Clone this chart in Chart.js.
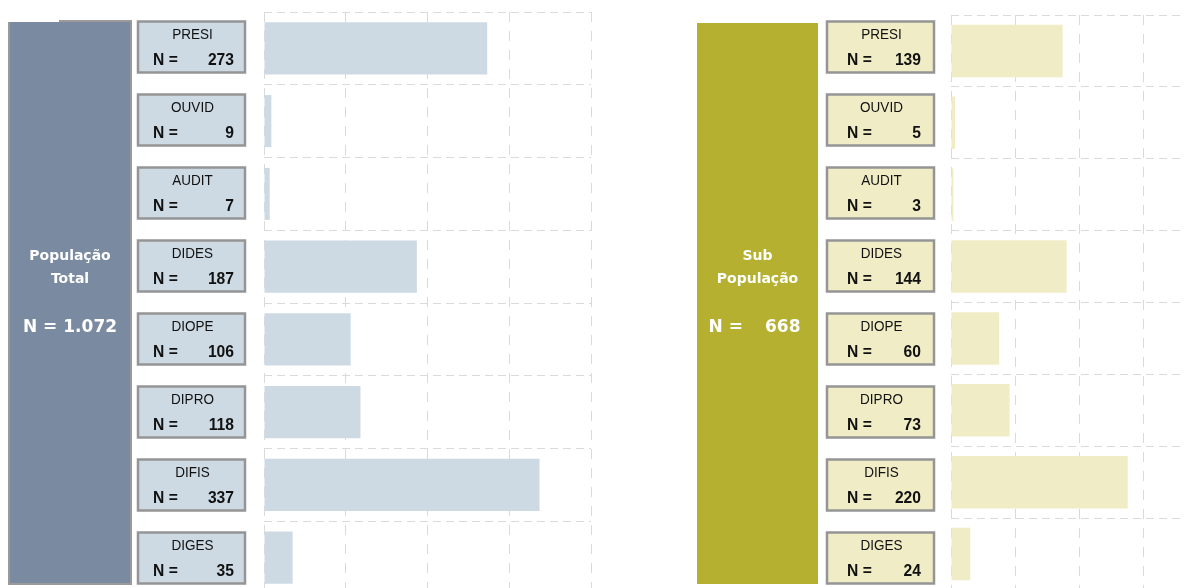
<!DOCTYPE html>
<html>
<head>
<meta charset="utf-8">
<script src="https://cdn.jsdelivr.net/npm/chart.js@4.4.0/dist/chart.umd.min.js"></script>
<style>
html, body { margin: 0; padding: 0; background: #fff; overflow: hidden; width: 1185px; height: 588px; }
canvas { position: absolute; top: 0; }
#left { left: 0; }
#right { left: 680px; }
</style>
</head>
<body>
<canvas id="left" width="600" height="600"></canvas>
<canvas id="right" width="540" height="600"></canvas>
<script>
// data
var categories = ['PRESI', 'OUVID', 'AUDIT', 'DIDES', 'DIOPE', 'DIPRO', 'DIFIS', 'DIGES'];
var totalValues = [273, 9, 7, 187, 106, 118, 337, 35];
var subValues = [139, 5, 3, 144, 60, 73, 220, 24];
var totalTitle = ['População', 'Total'];
var subTitle = ['Sub', 'População'];
var totalN = '1.072';
var subN = '668';
var totalAxis = { max: 400, step: 100 };
var subAxis = { max: 320, step: 80 };

// narrow text, like the condensed font of the original
function narrowText(ctx, text, x, y, sx) {
    ctx.save();
    ctx.translate(x, y);
    ctx.scale(sx, 1);
    ctx.fillText(text, 0, 0);
    ctx.restore();
}

// draws the big title box and the label boxes next to the bars
function panelPlugin(p) {
    return {
        id: 'panel',
        afterDraw: function (chart) {
            var ctx = chart.ctx;
            ctx.save();
            // big box
            ctx.fillStyle = p.bigColor;
            ctx.fillRect(p.bigX, p.bigTop, p.bigW, p.bigBottom - p.bigTop);
            if (p.bigBorder) {
                ctx.strokeStyle = '#9a9a9a';
                ctx.lineWidth = 2;
                ctx.beginPath();
                ctx.moveTo(p.bigX - 1, p.bigTop);
                ctx.lineTo(p.bigX - 1, p.bigBottom + 1);
                ctx.lineTo(p.bigX + p.bigW + 1, p.bigBottom + 1);
                ctx.lineTo(p.bigX + p.bigW + 1, p.bigTop - 1);
                ctx.lineTo(p.bigX + 49, p.bigTop - 1);
                ctx.stroke();
            }
            var cx = p.bigX + p.bigW / 2;
            ctx.fillStyle = '#fff';
            ctx.textAlign = 'center';
            ctx.textBaseline = 'middle';
            ctx.font = 'bold 14px "DejaVu Sans"';
            ctx.fillText(p.title[0], cx, 256);
            ctx.fillText(p.title[1], cx, 279);
            ctx.font = 'bold 17px "DejaVu Sans"';
            if (p.splitN) {
                ctx.textAlign = 'left';
                ctx.fillText('N =', cx - 49, 328);
                ctx.textAlign = 'right';
                ctx.fillText(p.n, cx + 43, 328);
            } else {
                ctx.fillText('N = ' + p.n, cx, 328);
            }

            // label boxes
            for (var i = 0; i < categories.length; i++) {
                var cy = 47 + 73 * i;
                var top = cy - 25.5;
                ctx.fillStyle = p.boxColor;
                ctx.fillRect(p.boxX, top, p.boxW, 51);
                ctx.strokeStyle = '#959595';
                ctx.lineWidth = 2.5;
                ctx.strokeRect(p.boxX, top, p.boxW, 51);
                ctx.fillStyle = '#111';
                ctx.textBaseline = 'middle';
                ctx.textAlign = 'center';
                ctx.font = '15px "Liberation Sans"';
                narrowText(ctx, categories[i], p.boxX + p.boxW / 2 + 1, cy - 12, 0.9);
                ctx.font = 'bold 17px "Liberation Sans"';
                ctx.textAlign = 'left';
                narrowText(ctx, 'N =', p.boxX + p.nOff, cy + 13, 0.92);
                ctx.textAlign = 'right';
                narrowText(ctx, String(p.values[i]), p.boxX + p.boxW - p.vOff, cy + 13, 0.92);
            }
            ctx.restore();
        }
    };
}

function makeChart(id, values, barColor, axis, padding, plugin, barPct) {
    return new Chart(document.getElementById(id), {
        type: 'bar',
        data: {
            labels: categories,
            datasets: [{
                data: values,
                backgroundColor: barColor,
                borderWidth: 0,
                categoryPercentage: 1,
                barPercentage: barPct
            }]
        },
        options: {
            indexAxis: 'y',
            responsive: false,
            animation: false,
            layout: { padding: padding },
            plugins: { legend: { display: false }, tooltip: { enabled: false } },
            scales: {
                x: {
                    min: 0,
                    max: axis.max,
                    ticks: { display: false, stepSize: axis.step },
                    grid: { color: '#dadada', drawTicks: false },
                    border: { display: false, dash: [10, 9] },
                    afterFit: function (s) { s.height = 0; }
                },
                y: {
                    ticks: { display: false },
                    grid: { color: '#dadada', drawTicks: false, offset: true },
                    border: { display: false, dash: [8, 5] },
                    afterFit: function (s) { s.width = 0; }
                }
            }
        },
        plugins: [plugin]
    });
}

makeChart('left', totalValues, '#cddae4', totalAxis,
    { left: 264, top: 12, right: 9, bottom: 6 },
    panelPlugin({
        bigColor: '#7a8aa1', bigX: 10, bigW: 120, bigTop: 22, bigBottom: 583, bigBorder: true,
        title: totalTitle, n: totalN, splitN: false,
        boxColor: '#cddae4', boxX: 138, boxW: 107, nOff: 15, vOff: 11, values: totalValues
    }), 0.715);

makeChart('right', subValues, '#f0ecc6', subAxis,
    { left: 271, top: 15, right: 12, bottom: 10 },
    panelPlugin({
        bigColor: '#b5b02f', bigX: 17, bigW: 121, bigTop: 23, bigBottom: 584, bigBorder: false,
        title: subTitle, n: subN, splitN: true,
        boxColor: '#f0ecc6', boxX: 147, boxW: 107, nOff: 20, vOff: 13, values: subValues
    }), 0.73);
</script>
</body>
</html>
